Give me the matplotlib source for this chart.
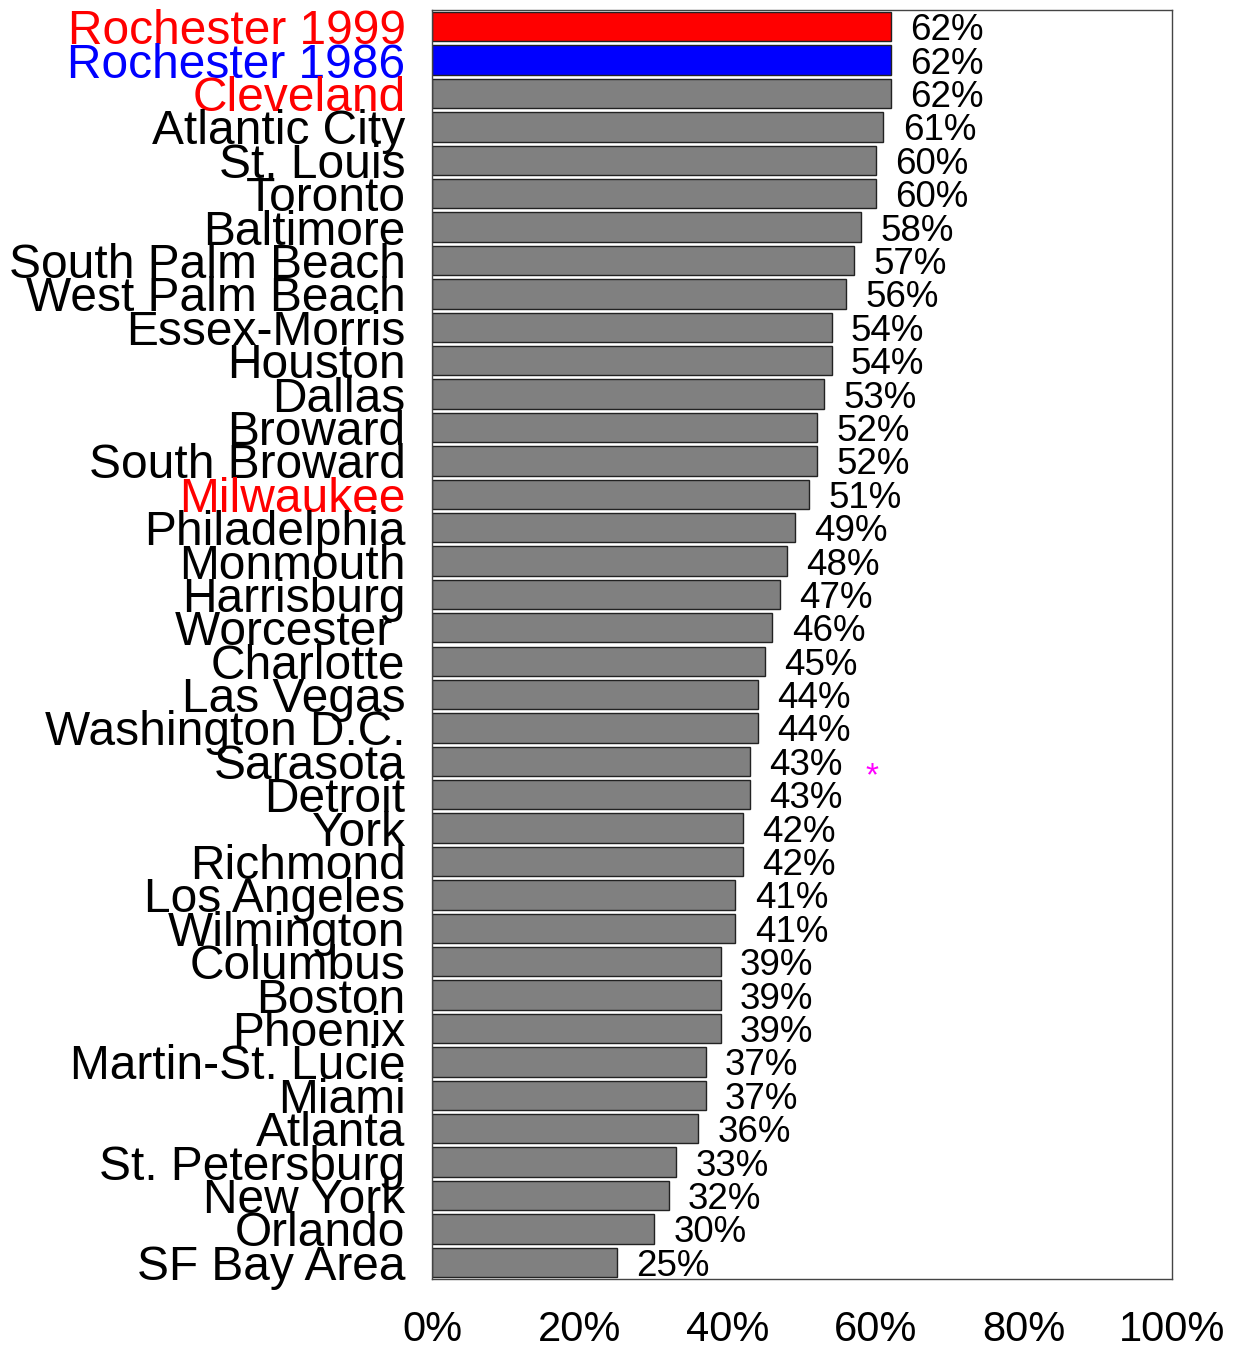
import matplotlib
matplotlib.use('Agg')
import matplotlib.pyplot as plt

plt.rcParams['font.family'] = ['Liberation Sans', 'DejaVu Sans']

cities = ['Rochester 1999', 'Rochester 1986', 'Cleveland', 'Atlantic City', 'St. Louis',
          'Toronto', 'Baltimore', 'South Palm Beach', 'West Palm Beach', 'Essex-Morris',
          'Houston', 'Dallas', 'Broward', 'South Broward', 'Milwaukee', 'Philadelphia',
          'Monmouth', 'Harrisburg', 'Worcester ', 'Charlotte', 'Las Vegas',
          'Washington D.C.', 'Sarasota', 'Detroit', 'York', 'Richmond', 'Los Angeles',
          'Wilmington', 'Columbus', 'Boston', 'Phoenix', 'Martin-St. Lucie', 'Miami',
          'Atlanta', 'St. Petersburg', 'New York', 'Orlando', 'SF Bay Area']
values = [62, 62, 62, 61, 60, 60, 58, 57, 56, 54, 54, 53, 52, 52, 51, 49, 48, 47, 46, 45,
          44, 44, 43, 43, 42, 42, 41, 41, 39, 39, 39, 37, 37, 36, 33, 32, 30, 25]
bar_colors = ['#ff0000', '#0000ff'] + ['#808080'] * 36
label_colors = {'Rochester 1999': '#ff0000', 'Rochester 1986': '#0000ff',
                'Cleveland': '#ff0000', 'Milwaukee': '#ff0000'}
xticks = [0, 20, 40, 60, 80, 100]

fig = plt.figure(figsize=(12.38, 13.45), dpi=100)
ax = fig.add_axes([432 / 1238, 1 - 1279 / 1345, 740 / 1238, 1269 / 1345])

pos = list(range(len(cities)))
ax.barh(pos, values, height=0.88, color=bar_colors, edgecolor='#222222', linewidth=1)
for p, v in zip(pos, values):
    ax.text(v + 2.6, p + 0.12, f'{v}%', va='center', ha='left', fontsize=26.5)

# the lone marker next to Sarasota
ax.text(59.5, 22.45, '*', color='#ff00ff', fontsize=24, ha='center', va='center')

ax.set_xlim(0, 100)
ax.set_ylim(len(cities) - 0.5, -0.5)
ax.set_yticks(pos)
ax.set_yticklabels(cities, fontsize=34.5)
for lbl in ax.get_yticklabels():
    lbl.set_color(label_colors.get(lbl.get_text(), 'black'))
ax.set_xticks(xticks)
ax.set_xticklabels([f'{t}%' for t in xticks], fontsize=30)
ax.tick_params(axis='both', length=0)
ax.tick_params(axis='x', pad=22)
ax.tick_params(axis='y', pad=19)
for s in ax.spines.values():
    s.set_color('#444444')
    s.set_linewidth(1)

fig.savefig('out.png', dpi=100)
